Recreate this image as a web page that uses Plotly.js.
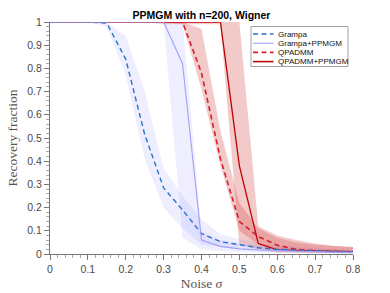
<!DOCTYPE html>
<html><head><meta charset="utf-8">
<script src="https://cdn.plot.ly/plotly-3.0.1.min.js"></script>
<style>html,body{margin:0;padding:0;background:#fff;}#chart{width:390px;height:293px;}</style>
</head><body><div id="chart"></div>
<script>
const sigma = [0,0.05,0.1,0.15,0.2,0.25,0.3,0.35,0.4,0.45,0.5,0.55,0.6,0.65,0.7,0.75,0.8];

const grampaMean  = [1,1,1,0.995,0.84,0.515,0.285,0.19,0.088,0.053,0.039,0.027,0.02,0.016,0.013,0.011,0.01];
const grampaUpper = [1,1,1,1,0.94,0.70,0.37,0.25,0.15,0.085,0.065,0.048,0.038,0.03,0.025,0.022,0.02];
const grampaLower = [1,1,1,0.98,0.77,0.41,0.2,0.11,0.04,0.03,0.02,0.012,0.008,0.006,0.005,0.004,0.003];

const gpMean  = [1,1,1,1,1,1,1,0.82,0.06,0.033,0.022,0.017,0.014,0.012,0.01,0.008,0.007];
const gpUpper = [1,1,1,1,1,1,1,1,0.1,0.06,0.045,0.035,0.028,0.024,0.02,0.018,0.016];
const gpLower = [1,1,1,1,1,1,1,0.07,0.02,0.012,0.008,0.005,0.004,0.003,0.002,0.002,0.001];

const qpMean  = [1,1,1,1,1,1,1,1,0.78,0.41,0.14,0.075,0.038,0.02,0.014,0.011,0.009];
const qpUpper = [1,1,1,1,1,1,1,1,0.97,0.53,0.22,0.11,0.07,0.05,0.04,0.035,0.03];
const qpLower = [1,1,1,1,1,1,1,0.99,0.71,0.38,0.1,0.04,0.02,0.01,0.006,0.004,0.003];

const qppMean  = [1,1,1,1,1,1,1,1,1,1,0.38,0.045,0.018,0.015,0.012,0.011,0.01];
const qppUpper = [1,1,1,1,1,1,1,1,1,1,1,0.12,0.08,0.06,0.045,0.035,0.03];
const qppLower = [1,1,1,1,1,1,0.99,0.99,0.99,0.99,0.04,0.02,0.008,0.006,0.005,0.004,0.003];

const seriesNames = ["Grampa","Grampa+PPMGM","QPADMM","QPADMM+PPMGM"];
const xTicks = [0,0.1,0.2,0.3,0.4,0.5,0.6,0.7,0.8];
const yTicks = [0,0.1,0.2,0.3,0.4,0.5,0.6,0.7,0.8,0.9,1];

const blueC = "rgb(40,115,200)", lavC = "rgb(160,160,255)", redC = "rgb(215,30,40)", dredC = "rgb(190,0,0)";
const blueBand = "rgba(140,140,255,0.15)", redBand = "rgba(210,60,60,0.27)";
const dashPat = "5px,3.5px";

function band(up, lo, color){
  return {x: sigma.concat(sigma.slice().reverse()), y: up.concat(lo.slice().reverse()),
    type:"scatter", mode:"lines", fill:"toself", fillcolor:color, line:{width:0}, hoverinfo:"skip", showlegend:false};
}
function line(y, color, dash, w, name){
  return {x: sigma, y: y, type:"scatter", mode:"lines", name: name, line:{color:color, dash:dash, width:w}, showlegend:false};
}
const data = [
  band(grampaUpper, grampaLower, blueBand),
  band(gpUpper, gpLower, blueBand),
  band(qpUpper, qpLower, redBand),
  band(qppUpper, qppLower, redBand),
  line(qppMean, dredC, "solid", 1.3, seriesNames[3]),
  line(qpMean, redC, dashPat, 1.6, seriesNames[2]),
  line(grampaMean, blueC, dashPat, 1.4, seriesNames[0]),
  line(gpMean, lavC, "solid", 1.1, seriesNames[1])
];

// custom legend (pixel -> paper helpers)
const L=50, R=353, T=22, B=254;
const px = v => (v-L)/(R-L), py = v => (B-v)/(B-T);
const legendRows = [34,43.3,52.4,61.6];
const legStyles = [[blueC,dashPat,1.4],[lavC,"solid",1.1],[redC,dashPat,1.6],[dredC,"solid",1.6]];
const shapes = [{type:"rect", xref:"paper", yref:"paper", x0:px(251), x1:px(348), y0:py(66.5), y1:py(26.5),
  line:{color:"#8a8a8a", width:0.8}, fillcolor:"white", layer:"above"}];
const annotations = [];
seriesNames.forEach((n,i)=>{
  shapes.push({type:"line", xref:"paper", yref:"paper", x0:px(253), x1:px(273.5), y0:py(legendRows[i]), y1:py(legendRows[i]),
    line:{color:legStyles[i][0], dash:legStyles[i][1], width:legStyles[i][2]}, layer:"above"});
  annotations.push({xref:"paper", yref:"paper", x:px(276), y:py(legendRows[i]), xanchor:"left", yanchor:"middle",
    text:n, showarrow:false, font:{family:"Liberation Sans, Arial", size:8, color:"#111"}});
});

const tickFont = {family:"Liberation Sans, Arial", size:10.5, color:"#4a4a4a"};
const layout = {
  width:390, height:293, margin:{l:L, r:390-R, t:T, b:293-B}, paper_bgcolor:"white", plot_bgcolor:"white",
  showlegend:false,
  title:{text:"<b>PPMGM with n=200, Wigner</b>", font:{family:"Liberation Sans, Arial", size:10.5, color:"#000"},
    x:0.5, xref:"paper", xanchor:"center", y:1-15/293, yanchor:"middle"},
  xaxis:{range:[0,0.8], tickvals:xTicks, ticktext:xTicks.map(String), ticks:"outside", ticklen:5, tickcolor:"#777",
    showline:true, linecolor:"#777", linewidth:1, showgrid:false, zeroline:false, tickfont:tickFont,
    minor:{dtick:0.02, ticks:"outside", ticklen:3, tickcolor:"#aaa", showgrid:false},
    title:{text:"Noise <i>σ</i>", font:{family:"Liberation Serif, DejaVu Serif, serif", size:13.5, color:"#555"}, standoff:4}},
  yaxis:{range:[0,1], tickvals:yTicks, ticktext:yTicks.map(String), ticks:"outside", ticklen:5, tickcolor:"#777",
    showline:true, linecolor:"#777", linewidth:1, showgrid:false, zeroline:false, tickfont:tickFont,
    minor:{dtick:0.02, ticks:"outside", ticklen:3, tickcolor:"#aaa", showgrid:false},
    title:{text:"Recovery fraction", font:{family:"Liberation Serif, DejaVu Serif, serif", size:13.5, color:"#555"}, standoff:6}},
  shapes:shapes, annotations:annotations
};
Plotly.newPlot("chart", data, layout, {staticPlot:true, displayModeBar:false});
</script></body></html>
